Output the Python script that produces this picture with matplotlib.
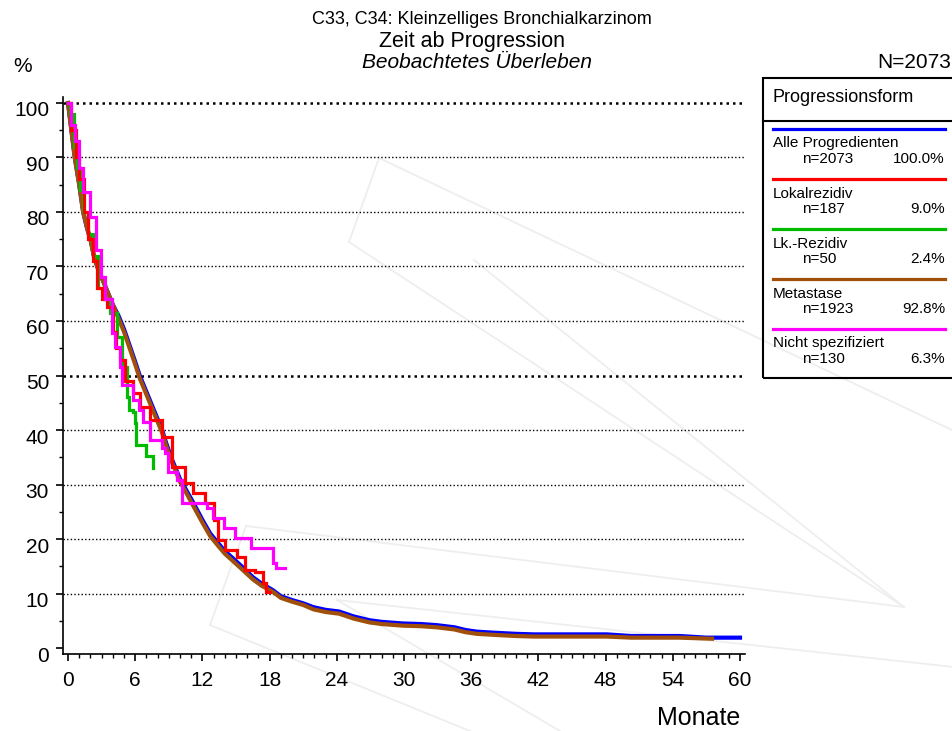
import matplotlib
matplotlib.use('Agg')
import matplotlib.pyplot as plt
from matplotlib.lines import Line2D
from matplotlib.patches import Rectangle
from matplotlib.transforms import ScaledTranslation

plt.rcParams['font.family'] = ['Liberation Sans', 'DejaVu Sans']

# Überlebenskurven (Monate, % überlebend)
alle_t = [0, 0.3, 0.6, 1.0, 1.35, 1.7, 2.0, 2.3, 2.6, 3.0, 3.3, 3.6, 4.0, 4.5, 5.0,
          5.5, 6.0, 6.4, 7.0, 7.5, 8.0, 8.4, 8.7, 9.2, 9.6, 10.0, 10.6, 11.2, 12.0, 12.7,
          13.5, 14.0, 14.7, 15.5, 16.5, 17.3, 18.3, 19.0, 20.0, 21.0, 21.9, 23.0, 24.2,
          25.5, 26.9, 28.0, 29.9, 31.5, 32.9, 34.5, 35.5, 36.5, 38.1, 40.0, 41.6, 45.0,
          48.1, 50.3, 54.6, 57.0, 60.0]
alle_s = [100, 95, 90, 85, 80, 77, 75, 72, 70, 68, 66.5, 65, 63, 61, 58.5,
          55.5, 52.5, 50, 47, 44.5, 42, 40, 38, 35, 33, 31, 28.8, 26.6, 23.5, 21,
          19, 17.8, 16.5, 15, 13, 11.8, 10.6, 9.5, 8.8, 8.2, 7.5, 7.0, 6.7,
          5.8, 5.1, 4.8, 4.5, 4.4, 4.2, 3.8, 3.3, 3.0, 2.8, 2.6, 2.5, 2.5,
          2.5, 2.2, 2.2, 1.9, 1.9]

lokal_t = [0, 0.3, 0.7, 1.0, 1.4, 1.8, 2.2, 2.6, 3.0, 3.5, 4.0, 4.3, 4.6, 5.1, 5.8,
           6.4, 7.3, 8.4, 9.3, 10.4, 11.2, 12.2, 13.0, 13.4, 14.0, 15.1, 15.8, 16.7,
           17.4, 17.7, 18.0]
lokal_s = [100, 95, 90, 86, 80, 75, 71, 66, 64, 62.5, 58, 55, 52.8, 49, 46.8,
           44.2, 41.8, 38.7, 33.2, 30.2, 28.4, 26.6, 23.5, 19.8, 18, 16.7, 14.3, 14,
           11.9, 10.3, 10.3]

lk_t = [0, 0.2, 0.5, 0.8, 1.1, 1.3, 1.8, 2.2, 2.7, 3.2, 3.75, 4.4, 4.8, 5.3, 5.4,
        5.8, 6.0, 6.1, 7.0, 7.6]
lk_s = [100, 98, 92, 88, 84, 80, 76, 72, 66, 64, 61.5, 57, 51.6, 46, 43.6,
        43.3, 41.3, 37.2, 35.2, 33]

meta_t = [0, 0.3, 0.6, 1.0, 1.35, 1.7, 2.0, 2.3, 2.6, 3.0, 3.3, 3.6, 4.0, 4.5, 5.0,
          5.5, 6.0, 6.4, 7.0, 7.5, 8.0, 8.4, 8.7, 9.2, 9.6, 10.0, 10.6, 11.2, 12.0, 12.7,
          13.5, 14.0, 14.7, 15.5, 16.5, 17.3, 18.3, 19.0, 20.0, 21.0, 21.9, 23.0, 24.2,
          25.5, 26.9, 28.0, 29.9, 31.5, 32.9, 34.5, 35.5, 36.5, 38.1, 40.0, 41.6, 45.0,
          48.1, 50.3, 54.6, 57.5]
meta_s = [100, 95, 90, 85, 80, 77, 75, 72, 70, 68, 66.5, 65, 63, 60.5, 58,
          55, 52, 49.5, 46.5, 44, 41.5, 39.5, 37.5, 34.5, 32.5, 30.5, 28.3, 26, 23, 20.5,
          18.5, 17.3, 16, 14.5, 12.6, 11.4, 10.3, 9.2, 8.5, 7.9, 7.1, 6.6, 6.3,
          5.4, 4.7, 4.4, 4.1, 4.0, 3.8, 3.4, 2.9, 2.6, 2.4, 2.2, 2.1, 2.1,
          2.1, 1.9, 1.9, 1.7]

nicht_t = [0, 0.3, 0.6, 1.0, 1.35, 2.0, 2.5, 2.9, 3.3, 3.9, 4.2, 4.6, 4.8, 5.8, 6.3,
           6.7, 7.3, 8.4, 8.7, 8.9, 9.7, 10.2, 12.4, 12.9, 13.9, 14.9, 16.3, 18.3, 18.6, 19.4]
nicht_s = [100, 96, 93, 88, 83.7, 79, 73, 68, 64, 57.8, 55.2, 51.6, 48.3, 45.5, 43.7,
           41.5, 38.2, 36.7, 35.8, 32.3, 30.8, 26.6, 25.7, 23.9, 22, 20.2, 18.3, 15.6, 14.7, 14.7]

# Legende
namen = ['Alle Progredienten', 'Lokalrezidiv', 'Lk.-Rezidiv', 'Metastase', 'Nicht spezifiziert']
anzahl = [2073, 187, 50, 1923, 130]
anteil = [100.0, 9.0, 2.4, 92.8, 6.3]
farben = ['#0000ff', '#ff0000', '#00bb00', '#a0500a', '#ff00ff']

x_ticks = list(range(0, 61, 6))
y_ticks = list(range(0, 101, 10))

W, H = 952, 731
fig = plt.figure(figsize=(W / 100, H / 100), dpi=100)


def px(x, y):
    # Pixel (oben links) -> Figurkoordinaten
    return x / W, 1 - y / H


# Wasserzeichen im Hintergrund
wasserzeichen = [((349, 242), (379, 158)), ((379, 158), (954, 431)),
                 ((349, 242), (904, 607)), ((474, 260), (904, 607)),
                 ((246, 526), (210, 625)), ((246, 526), (904, 607)),
                 ((337, 600), (954, 667)), ((210, 625), (470, 731)),
                 ((337, 600), (560, 731))]
for a, b in wasserzeichen:
    (x0, y0), (x1, y1) = px(*a), px(*b)
    fig.add_artist(Line2D([x0, x1], [y0, y1], transform=fig.transFigure,
                          color='#eeeeee', lw=1.3, zorder=-5))

ax = fig.add_axes([63 / W, 77 / H, (744.5 - 63) / W, (654 - 97) / H])
ax.set_facecolor('none')

for y in y_ticks[1:]:
    dick = y in (50, 100)
    ax.axhline(y, color='black', lw=1.8 if dick else 1.0, ls=(0, (1, 1.6)), zorder=1)

# große Gruppen: Stufen so fein, dass die Kurve glatt wirkt
ax.plot(alle_t, alle_s, color=farben[0], lw=3.0, zorder=3)
ax.plot(meta_t, meta_s, color=farben[3], lw=3.0, zorder=3)
kurven = [(lk_t, lk_s, farben[2]), (lokal_t, lokal_s, farben[1]),
          (nicht_t, nicht_s, farben[4])]
for t, s, c in kurven:
    ax.plot(t, s, drawstyle='steps-post', color=c, lw=2.3, zorder=3,
            solid_joinstyle='miter')

ax.set_xlim(-0.45, 60.4)
ax.set_ylim(-1.1, 101.1)
ax.spines['top'].set_visible(False)
ax.spines['right'].set_visible(False)
ax.spines['left'].set_linewidth(1.2)
ax.spines['bottom'].set_linewidth(1.2)

ax.set_xticks(x_ticks)
ax.set_xticks(range(0, 61), minor=True)
ax.set_yticks(y_ticks)
ax.set_yticks(range(5, 100, 10), minor=True)
ax.tick_params(axis='both', which='major', length=5, width=1.2, labelsize=15)
ax.tick_params(axis='both', which='minor', length=3, width=1.0)
ax.tick_params(axis='x', which='major', pad=7)
ax.tick_params(axis='y', which='major', pad=5)
verschiebung = ScaledTranslation(0, -0.06, fig.dpi_scale_trans)
for lbl in ax.get_yticklabels():
    lbl.set_transform(lbl.get_transform() + verschiebung)

# Titel und Beschriftungen
fig.text(*px(482, 20), 'C33, C34: Kleinzelliges Bronchialkarzinom', fontsize=13,
         ha='center', va='center')
fig.text(*px(472, 42), 'Zeit ab Progression', fontsize=15.5, ha='center', va='center')
fig.text(*px(477, 63), 'Beobachtetes Überleben', fontsize=15, style='italic',
         ha='center', va='center')
fig.text(*px(13, 66), '%', fontsize=15, ha='left', va='center')
fig.text(*px(951, 62), 'N=2073', fontsize=15, ha='right', va='center')
fig.text(*px(740, 718), 'Monate', fontsize=18, ha='right', va='center')

# Legendenkasten
x0, y0 = px(763, 378)
x1, y1 = px(962, 78)
fig.add_artist(Rectangle((x0, y0), x1 - x0, y1 - y0, transform=fig.transFigure,
                         fill=False, lw=1.5, ec='black'))
fig.text(*px(773, 98), 'Progressionsform', fontsize=13, ha='left', va='center')
a, b = px(763, 121), px(962, 121)
fig.add_artist(Line2D([a[0], b[0]], [a[1], b[1]], transform=fig.transFigure,
                      color='black', lw=1.5))
for i, (name, n, p, c) in enumerate(zip(namen, anzahl, anteil, farben)):
    yl = 129 + 50 * i
    a, b = px(773, yl), px(945, yl)
    fig.add_artist(Line2D([a[0], b[0]], [a[1], b[1]], transform=fig.transFigure,
                          color=c, lw=2.3))
    fig.text(*px(773, yl + 14.5), name, fontsize=11, ha='left', va='center')
    fig.text(*px(802, yl + 30), 'n=%d' % n, fontsize=11, ha='left', va='center')
    fig.text(*px(945, yl + 30), '%.1f%%' % p, fontsize=11, ha='right', va='center')

plt.savefig('out.png', dpi=100)
